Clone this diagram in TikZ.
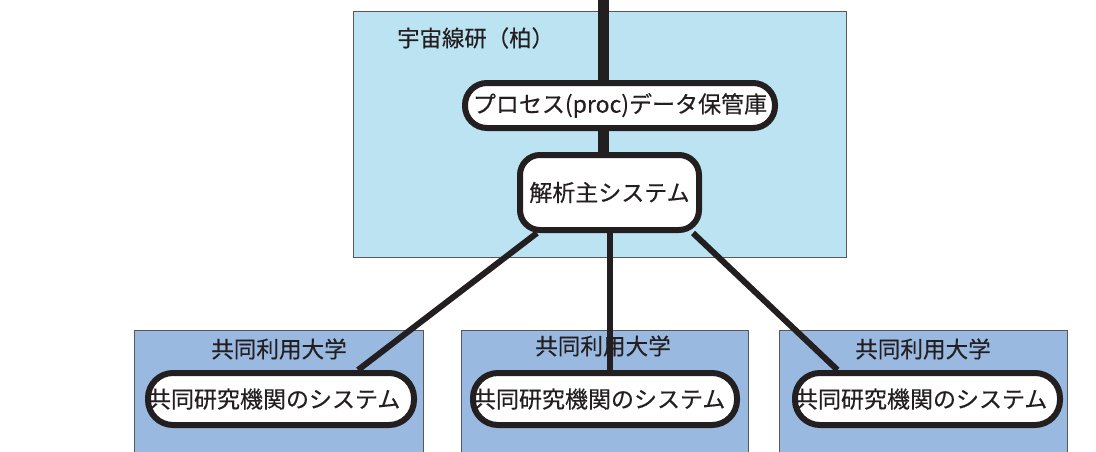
\documentclass[tikz,border=0pt]{standalone}
\usepackage{fontspec}
\setmainfont{Noto Sans CJK JP}[FakeBold=0.4]
\usepackage{tikz}
\usetikzlibrary{calc,positioning}
\definecolor{icrrblue}{HTML}{BBE3F1}
\definecolor{unvblue}{HTML}{9AB9E0}
\definecolor{ink}{HTML}{231F20}
\begin{document}
\begin{tikzpicture}[x=1pt,y=-1pt]
\tikzstyle{site}=[draw=ink!75, line width=1pt]
\tikzstyle{sys}=[draw=ink, fill=white, line width=6pt, inner sep=0pt,
                 text=ink, font=\fontsize{23}{27}\selectfont]
\tikzstyle{lbl}=[inner sep=0pt, text=ink, font=\fontsize{22.6}{26}\selectfont]
\tikzstyle{trunk}=[draw=ink, line width=11pt]
\tikzstyle{branch}=[draw=ink, line width=6pt]
\clip (0,0) rectangle (1096,451);
\fill[white] (0,0) rectangle (1096,451);
% sites
\draw[site, fill=icrrblue] (353,11) rectangle (846,257);
\draw[site, fill=unvblue] (134,330) rectangle (423,470);
\draw[site, fill=unvblue] (461,330) rectangle (748,470);
\draw[site, fill=unvblue] (779,330) rectangle (1067,470);
\node[lbl, anchor=west, font=\fontsize{22.4}{26}\selectfont] (icrr) at (397,38){宇宙線研（柏）};
\node[lbl] (u1) at (279,349){共同利用大学};
\node[lbl] (u2) at (603,346){共同利用大学};
\node[lbl] (u3) at (923,349){共同利用大学};
% systems
\node[sys, rounded corners=22pt, minimum width=310pt, minimum height=45pt] (proc) at (620,105.5){プロセス(proc)データ保管庫};
\node[sys, rounded corners=20pt, minimum width=179pt, minimum height=75pt] (main) at (609.5,192.5){解析主システム};
\node[sys, rounded corners=25pt, minimum height=52pt, text width=266pt, align=left] (s1) at (281,399){共同研究機関のシステム};
\node[sys, rounded corners=25pt, minimum height=52pt, text width=264pt, align=left] (s2) at (605,399){共同研究機関のシステム};
\node[sys, rounded corners=25pt, minimum height=52pt, text width=265pt, align=left] (s3) at (927.5,399){共同研究機関のシステム};
% links
\coordinate (feed) at (603,0);
\draw[trunk] (feed) -- (feed |- proc.north);
\draw[trunk] (feed |- proc.south) -- (feed |- main.north);
\draw[branch] ($(main.south west)+(20,0)$) -- ($(s1.north)+(77,0)$);
\draw[branch] (main.south) -- (main.south |- s2.north);
\draw[branch] ($(main.south east)+(-9,0)$) -- ($(s3.north)+(-90,0)$);
\end{tikzpicture}
\end{document}
